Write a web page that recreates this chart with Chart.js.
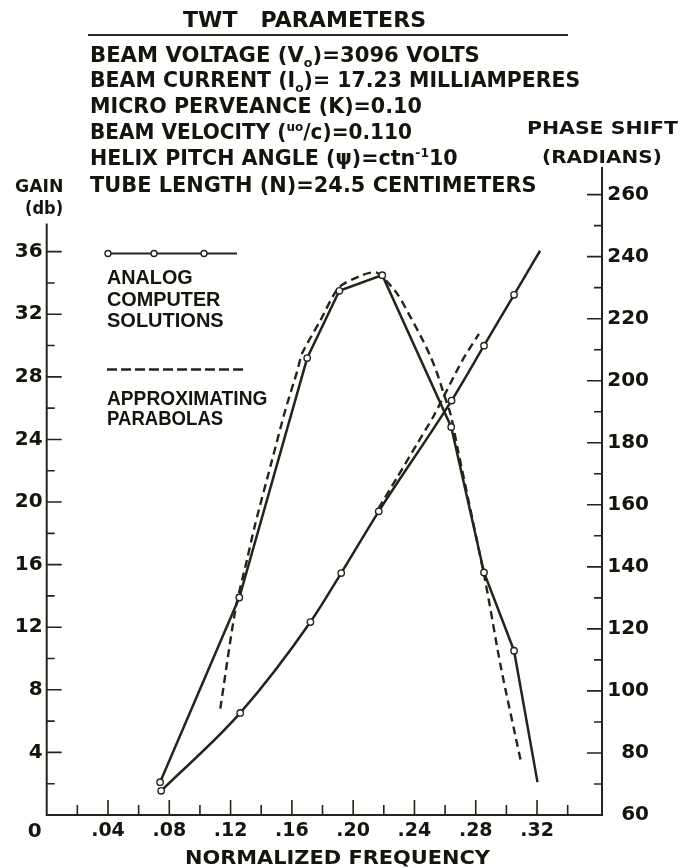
<!DOCTYPE html>
<html lang="en">
<head>
<meta charset="UTF-8">
<title>TWT Parameters - Gain and Phase Shift</title>
<script src="https://cdn.jsdelivr.net/npm/chart.js"></script>
<style>
    body { margin: 0; background: #fff; }
    #wrap { position: relative; width: 692px; height: 868px; overflow: hidden; }
    #chart { position: absolute; left: 0; top: 0; }
    .t {
        position: absolute;
        white-space: nowrap;
        line-height: 1;
        color: #15150d;
        font-family: "DejaVu Sans", sans-serif;
        font-weight: bold;
        transform-origin: 0 50%;
    }
    .head { font-size: 21px; }
    .key { font-family: "Liberation Sans", Arial, sans-serif; font-size: 20px; }
    .axis { font-size: 18px; }
    sub, sup { font-size: 0.6em; line-height: 0; }
    #rule {
        position: absolute; left: 88px; top: 34px; width: 480px; height: 0;
        border-top: 2px solid #2a2a20;
    }
</style>
</head>
<body>
<div id="wrap">
    <canvas id="chart" width="692" height="868"></canvas>

    <!-- header block: x, y (centre), width -->
    <div class="t head" data-box="183,20,243">TWT&nbsp;&nbsp;&nbsp;PARAMETERS</div>
    <div id="rule"></div>
    <div class="t head" data-box="90,55,390">BEAM VOLTAGE (V<sub>o</sub>)=3096 VOLTS</div>
    <div class="t head" data-box="90,80,490">BEAM CURRENT (I<sub>o</sub>)= 17.23 MILLIAMPERES</div>
    <div class="t head" data-box="90,106,332">MICRO PERVEANCE (K)=0.10</div>
    <div class="t head" data-box="90,132,322">BEAM VELOCITY (<sup>uo</sup>/c)=0.110</div>
    <div class="t head" data-box="90,158,368">HELIX PITCH ANGLE (&psi;)=ctn<sup>-1</sup>10</div>
    <div class="t head" data-box="90,185,447">TUBE LENGTH (N)=24.5 CENTIMETERS</div>

    <!-- axis titles -->
    <div class="t axis" data-box="15,186,48">GAIN</div>
    <div class="t axis" data-box="25,208,38">(db)</div>
    <div class="t axis" data-box="527,128,151">PHASE SHIFT</div>
    <div class="t axis" data-box="542,157,120">(RADIANS)</div>
    <div class="t axis" style="font-size:20px" data-box="185,857,305">NORMALIZED FREQUENCY</div>

    <!-- key text under the line samples -->
    <div class="t key" data-box="107,277,86">ANALOG</div>
    <div class="t key" data-box="107,299,113">COMPUTER</div>
    <div class="t key" data-box="107,320,117">SOLUTIONS</div>
    <div class="t key" data-box="107,398,160">APPROXIMATING</div>
    <div class="t key" data-box="107,418,116">PARABOLAS</div>
</div>

<script>
// Analog computer solutions: gain (db) against normalized frequency
const gainFreq = [0.074, 0.1257, 0.170, 0.191, 0.219, 0.264, 0.2854, 0.305, 0.3203];
const gainDb   = [2.1, 13.9, 29.2, 33.5, 34.5, 24.8, 15.5, 10.5, 2.1];

// Analog computer solutions: phase shift (radians)
const phaseFreq = [0.0747, 0.1263, 0.1721, 0.1922, 0.2167, 0.2642, 0.2854, 0.305, 0.322];
const phaseRad  = [67.8, 92.9, 122.2, 138.0, 157.9, 193.6, 211.3, 227.7, 241.9];

// Approximating parabolas
const gainFitFreq = [0.1133, 0.1231, 0.1307, 0.1361, 0.1466, 0.1558, 0.1636, 0.1667, 0.1786, 0.1906,
                     0.2059, 0.2157, 0.2288, 0.2375, 0.2441, 0.2505, 0.2549, 0.2592, 0.2636, 0.268,
                     0.2865, 0.2963, 0.3093];
const gainFitDb   = [6.8, 13.1, 16.3, 18.6, 22.5, 25.9, 28.4, 29.5, 31.6, 33.7,
                     34.5, 34.65, 33.3, 31.8, 30.6, 29.3, 28.2, 26.9, 25.6, 23.5,
                     14.8, 9.5, 3.5];
const phaseFitFreq = [0.2165, 0.2288, 0.2418, 0.2527, 0.2712, 0.2821];
const phaseFitRad  = [158.8, 168.9, 179.7, 188.8, 206.5, 215.1];

// Tick positions
const xTicks     = [0, 0.02, 0.04, 0.06, 0.08, 0.10, 0.12, 0.14, 0.16, 0.18, 0.20, 0.22, 0.24, 0.26, 0.28, 0.30, 0.32, 0.34];
const gainTicks  = [0, 2, 4, 6, 8, 10, 12, 14, 16, 18, 20, 22, 24, 26, 28, 30, 32, 34, 36];
const phaseTicks = [60, 70, 80, 90, 100, 110, 120, 130, 140, 150, 160, 170, 180, 190, 200, 210, 220, 230, 240, 250, 260];

const INK = '#24241b';
const TEXT = '#15150d';
const xFont = { family: '"DejaVu Sans", sans-serif', weight: 'bold', size: 19 };
const yFont = { family: '"DejaVu Sans", sans-serif', weight: 'bold', size: 20 };
const GAIN_AXIS_TOP = 37.8;

const pts = (xs, ys) => xs.map((x, i) => ({ x: x, y: ys[i] }));
const isMajor = (v, step) => Math.abs(v / step - Math.round(v / step)) < 1e-6;

// axis lines with inward ticks, the key samples and the corner zero
const frame = {
    id: 'frame',
    beforeDatasetsDraw(chart) {
        const { ctx, chartArea: a, scales } = chart;
        const x = scales.x, yg = scales.yGain, yp = scales.yPhase;
        ctx.save();
        ctx.strokeStyle = INK;
        ctx.lineWidth = 2;
        ctx.beginPath();
        ctx.moveTo(a.left, a.bottom);
        ctx.lineTo(a.left, yg.getPixelForValue(GAIN_AXIS_TOP));
        ctx.moveTo(a.left - 1, a.bottom);
        ctx.lineTo(a.right + 1, a.bottom);
        ctx.moveTo(a.right, a.bottom);
        ctx.lineTo(a.right, a.top);
        ctx.stroke();

        ctx.lineWidth = 1.6;
        ctx.beginPath();
        gainTicks.forEach(v => {
            if (v === 0) return;
            const py = yg.getPixelForValue(v);
            ctx.moveTo(a.left, py);
            ctx.lineTo(a.left + (isMajor(v, 4) ? 15 : 8), py);
        });
        phaseTicks.forEach(v => {
            if (v === 60) return;
            const py = yp.getPixelForValue(v);
            ctx.moveTo(a.right, py);
            ctx.lineTo(a.right - (isMajor(v, 20) ? 15 : 8), py);
        });
        xTicks.forEach(v => {
            if (v === 0) return;
            const px = x.getPixelForValue(v);
            ctx.moveTo(px, a.bottom);
            ctx.lineTo(px, a.bottom - (isMajor(v, 0.04) ? 15 : 10));
        });
        ctx.stroke();
        ctx.restore();
    },
    afterDraw(chart) {
        const { ctx, chartArea: a } = chart;
        ctx.save();
        // solid sample with open circles
        ctx.strokeStyle = INK;
        ctx.lineWidth = 2.2;
        ctx.beginPath();
        ctx.moveTo(108, 253.5);
        ctx.lineTo(237, 253.5);
        ctx.stroke();
        ctx.fillStyle = '#fff';
        ctx.lineWidth = 1.4;
        [108, 154, 204].forEach(cx => {
            ctx.beginPath();
            ctx.arc(cx, 253.5, 3, 0, Math.PI * 2);
            ctx.fill();
            ctx.stroke();
        });
        // dashed sample
        ctx.lineWidth = 2.4;
        ctx.setLineDash([10, 4]);
        ctx.beginPath();
        ctx.moveTo(107, 369.5);
        ctx.lineTo(245, 369.5);
        ctx.stroke();
        ctx.setLineDash([]);
        // shared origin label
        ctx.fillStyle = TEXT;
        ctx.font = 'bold 20px "DejaVu Sans", sans-serif';
        ctx.textAlign = 'center';
        ctx.textBaseline = 'middle';
        ctx.fillText('0', a.left - 12, 832);
        ctx.restore();
    }
};

const solid = (data, axis, smooth) => ({
    data: data,
    yAxisID: axis,
    borderColor: INK,
    borderWidth: 2.5,
    pointRadius: data.map((_, i) => i === data.length - 1 ? 0 : 3.2),
    pointBackgroundColor: '#fff',
    pointBorderColor: INK,
    pointBorderWidth: 1.4,
    tension: 0,
    cubicInterpolationMode: smooth ? 'monotone' : 'default',
    fill: false
});

const dashed = (data, axis) => ({
    data: data,
    yAxisID: axis,
    borderColor: INK,
    borderWidth: 2.4,
    borderDash: [8, 5],
    pointRadius: 0,
    tension: 0.25,
    fill: false
});

new Chart(document.getElementById('chart'), {
    type: 'line',
    data: {
        datasets: [
            solid(pts(gainFreq, gainDb), 'yGain', false),
            solid(pts(phaseFreq, phaseRad), 'yPhase', true),
            dashed(pts(gainFitFreq, gainFitDb), 'yGain'),
            dashed(pts(phaseFitFreq, phaseFitRad), 'yPhase')
        ]
    },
    options: {
        responsive: false,
        animation: false,
        devicePixelRatio: 1,
        layout: { padding: { top: 167, right: 43, left: 0, bottom: 0 } },
        plugins: { legend: { display: false }, tooltip: { enabled: false } },
        scales: {
            x: {
                type: 'linear',
                min: 0,
                max: 0.3624,
                grid: { display: false, drawTicks: false },
                border: { display: false },
                afterBuildTicks: s => { s.ticks = xTicks.map(v => ({ value: v })); },
                afterFit: s => { s.height = 53; },
                ticks: {
                    autoSkip: false,
                    maxRotation: 0,
                    padding: 5,
                    color: TEXT,
                    font: xFont,
                    callback: v => (v > 0 && isMajor(v, 0.04)) ? '.' + String(Math.round(v * 100)).padStart(2, '0') : ''
                }
            },
            yGain: {
                type: 'linear',
                position: 'left',
                min: 0,
                max: 41.41,
                grid: { display: false, drawTicks: false },
                border: { display: false },
                afterBuildTicks: s => { s.ticks = gainTicks.map(v => ({ value: v })); },
                afterFit: s => { s.width = 46.7; },
                ticks: {
                    autoSkip: false,
                    padding: 4,
                    color: TEXT,
                    font: yFont,
                    callback: v => (v > 0 && isMajor(v, 4)) ? String(v) : ''
                }
            },
            yPhase: {
                type: 'linear',
                position: 'right',
                min: 60,
                max: 268.9,
                grid: { display: false, drawTicks: false },
                border: { display: false },
                afterBuildTicks: s => { s.ticks = phaseTicks.map(v => ({ value: v })); },
                afterFit: s => { s.width = 47; },
                ticks: {
                    autoSkip: false,
                    padding: 6,
                    crossAlign: 'far',
                    color: TEXT,
                    font: yFont,
                    callback: v => isMajor(v, 20) ? String(v) : ''
                }
            }
        }
    },
    plugins: [frame]
});

// stretch each text block to the width it occupies on the sheet
document.querySelectorAll('.t').forEach(el => {
    const [x, y, w] = el.dataset.box.split(',').map(Number);
    el.style.left = x + 'px';
    el.style.top = (y - el.offsetHeight / 2) + 'px';
    el.style.transform = 'scaleX(' + (w / el.offsetWidth) + ')';
});
</script>
</body>
</html>
